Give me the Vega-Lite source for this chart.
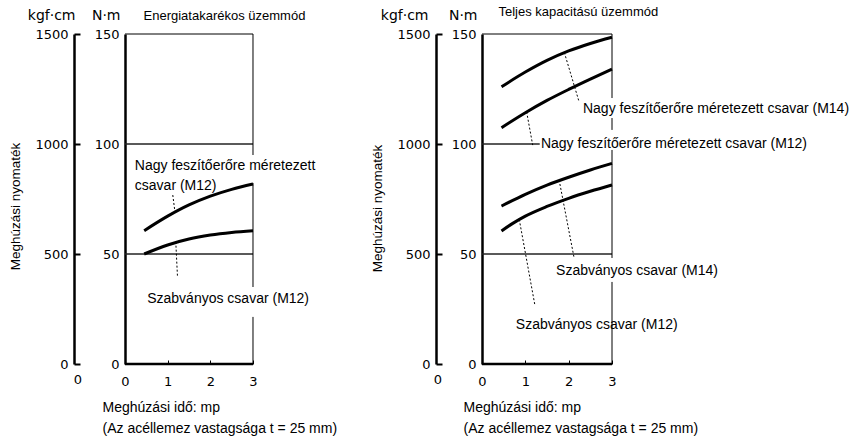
{
  "$schema": "https://vega.github.io/schema/vega-lite/v6.json",
  "width": 487,
  "height": 330,
  "autosize": {"type": "none"},
  "padding": {"left": 125, "top": 34, "right": 245, "bottom": 80},
  "background": "white",
  "datasets": {
    "gridL": [{"x1": 0, "x2": 3, "v": 50, "k": 500}, {"x1": 0, "x2": 3, "v": 100, "k": 1000}],
    "gridR": [{"x1": 0, "x2": 3, "v": 50, "k": 500}, {"x1": 0, "x2": 1.33, "v": 100, "k": 1000}],
    "frameL": [
      {"x1": 0, "x2": 3, "y1": 150, "y2": 150},
      {"x1": 3, "x2": 3, "y1": 150, "y2": 95},
      {"x1": 3, "x2": 3, "y1": 82.3, "y2": 35},
      {"x1": 3, "x2": 3, "y1": 21.4, "y2": 0}
    ],
    "frameR": [
      {"x1": 0, "x2": 3, "y1": 150, "y2": 150},
      {"x1": 3, "x2": 3, "y1": 150, "y2": 120.9},
      {"x1": 3, "x2": 3, "y1": 111.8, "y2": 106.4},
      {"x1": 3, "x2": 3, "y1": 97.3, "y2": 48.2},
      {"x1": 3, "x2": 3, "y1": 37.3, "y2": 0}
    ],
    "base": [{"x1": 0, "x2": 3, "y": 0}],
    "curvesL": [
      {"s": "Nagy M12", "t": 0.45, "nm": 60.6},
      {"s": "Nagy M12", "t": 1.0, "nm": 67.2},
      {"s": "Nagy M12", "t": 1.5, "nm": 72.3},
      {"s": "Nagy M12", "t": 2.0, "nm": 76.3},
      {"s": "Nagy M12", "t": 2.5, "nm": 79.4},
      {"s": "Nagy M12", "t": 3.0, "nm": 81.8},
      {"s": "Std M12", "t": 0.45, "nm": 50.0},
      {"s": "Std M12", "t": 1.0, "nm": 54.1},
      {"s": "Std M12", "t": 1.5, "nm": 56.8},
      {"s": "Std M12", "t": 2.0, "nm": 58.6},
      {"s": "Std M12", "t": 2.5, "nm": 59.8},
      {"s": "Std M12", "t": 3.0, "nm": 60.6}
    ],
    "curvesR": [
      {"s": "Nagy M14", "t": 0.45, "nm": 126.0},
      {"s": "Nagy M14", "t": 1.0, "nm": 132.7},
      {"s": "Nagy M14", "t": 1.5, "nm": 138.0},
      {"s": "Nagy M14", "t": 2.0, "nm": 142.3},
      {"s": "Nagy M14", "t": 2.5, "nm": 145.7},
      {"s": "Nagy M14", "t": 3.0, "nm": 148.5},
      {"s": "Nagy M12", "t": 0.45, "nm": 107.4},
      {"s": "Nagy M12", "t": 1.0, "nm": 114.2},
      {"s": "Nagy M12", "t": 1.5, "nm": 119.8},
      {"s": "Nagy M12", "t": 2.0, "nm": 124.8},
      {"s": "Nagy M12", "t": 2.5, "nm": 129.5},
      {"s": "Nagy M12", "t": 3.0, "nm": 134.0},
      {"s": "Std M14", "t": 0.45, "nm": 71.8},
      {"s": "Std M14", "t": 1.0, "nm": 77.1},
      {"s": "Std M14", "t": 1.5, "nm": 81.3},
      {"s": "Std M14", "t": 2.0, "nm": 84.9},
      {"s": "Std M14", "t": 2.5, "nm": 88.2},
      {"s": "Std M14", "t": 3.0, "nm": 91.2},
      {"s": "Std M12", "t": 0.45, "nm": 60.5},
      {"s": "Std M12", "t": 0.7, "nm": 63.8},
      {"s": "Std M12", "t": 1.0, "nm": 67.2},
      {"s": "Std M12", "t": 1.5, "nm": 71.6},
      {"s": "Std M12", "t": 2.0, "nm": 75.3},
      {"s": "Std M12", "t": 2.5, "nm": 78.5},
      {"s": "Std M12", "t": 3.0, "nm": 81.4}
    ],
    "leadL": [
      {"t1": 1.12, "y1": 76.8, "t2": 1.17, "y2": 69.2},
      {"t1": 1.19, "y1": 55.6, "t2": 1.23, "y2": 39.7}
    ],
    "leadR": [
      {"t1": 1.9, "y1": 141.6, "t2": 2.24, "y2": 119.2},
      {"t1": 1.03, "y1": 114.6, "t2": 1.17, "y2": 99.5},
      {"t1": 1.78, "y1": 83.6, "t2": 2.12, "y2": 48.8},
      {"t1": 0.86, "y1": 65.7, "t2": 1.22, "y2": 26.8}
    ],
    "textL": [
      {"t": 0.23, "nm": 88.0, "label": ["Nagy feszítőerőre méretezett", "csavar (M12)"]},
      {"t": 0.52, "nm": 27.6, "label": ["Szabványos csavar (M12)"]}
    ],
    "textR": [
      {"t": 2.33, "nm": 114.0, "label": ["Nagy feszítőerőre méretezett csavar (M14)"]},
      {"t": 1.36, "nm": 98.2, "label": ["Nagy feszítőerőre méretezett  csavar (M12)"]},
      {"t": 1.71, "nm": 40.5, "label": ["Szabványos csavar (M14)"]},
      {"t": 0.78, "nm": 15.9, "label": ["Szabványos csavar (M12)"]}
    ],
    "zero": [{"t": 0, "nm": 0, "label": "0"}]
  },
  "layer": [
    {
      "data": {"name": "gridL"},
      "mark": {"type": "rule", "color": "#222", "strokeWidth": 1},
      "encoding": {
        "x": {"field": "x1", "type": "quantitative", "scale": {"domain": [0, 11.4141]}, "axis": null},
        "x2": {"field": "x2"},
        "y": {"field": "v", "type": "quantitative", "scale": {"domain": [0, 150]},
          "axis": {"orient": "left", "values": [0, 50, 100, 150], "format": "d", "ticks": false, "domainWidth": 2.5, "labelPadding": 6,
            "title": "N·m", "titleAngle": 0, "titleAlign": "right", "titleBaseline": "alphabetic", "titleX": -5, "titleY": -15, "titleFont": "DejaVu Sans", "titleFontSize": 14}}
      }
    },
    {
      "data": {"name": "gridL"},
      "mark": {"type": "rule", "color": "#222", "strokeWidth": 1},
      "encoding": {
        "x": {"field": "x1", "type": "quantitative", "scale": {"domain": [0, 11.4141]}, "axis": null},
        "x2": {"field": "x2"},
        "y": {"field": "k", "type": "quantitative", "scale": {"domain": [0, 1500]},
          "axis": {"orient": "left", "values": [0, 500, 1000, 1500], "format": "d", "offset": 51, "tickSize": -6, "tickWidth": 2, "labelPadding": 12, "domainWidth": 2.5,
            "title": "kgf·cm", "titleAngle": 0, "titleAlign": "right", "titleBaseline": "alphabetic", "titleX": 1, "titleY": -15, "titleFont": "DejaVu Sans", "titleFontSize": 14}}
      }
    },
    {
      "data": {"name": "frameL"},
      "mark": {"type": "rule", "color": "black", "strokeWidth": 1},
      "encoding": {
        "x": {"field": "x1", "type": "quantitative", "scale": {"domain": [0, 11.4141]}, "axis": null},
        "x2": {"field": "x2"},
        "y": {"field": "y1", "type": "quantitative", "scale": {"domain": [0, 150]}, "axis": null},
        "y2": {"field": "y2"}
      }
    },
    {
      "data": {"name": "base"},
      "mark": {"type": "rule", "color": "black", "strokeWidth": 2.5},
      "encoding": {
        "x": {"field": "x1", "type": "quantitative", "scale": {"domain": [0, 11.4141]}, "axis": null},
        "x2": {"field": "x2"},
        "y": {"field": "y", "type": "quantitative", "scale": {"domain": [0, 150]}, "axis": null}
      }
    },
    {
      "data": {"name": "curvesL"},
      "mark": {"type": "line", "color": "black", "strokeWidth": 3, "interpolate": "monotone"},
      "encoding": {
        "x": {"field": "t", "type": "quantitative", "scale": {"domain": [0, 11.4141]},
          "axis": {"orient": "bottom", "values": [0, 1, 2, 3], "domain": false, "tickSize": -4, "tickWidth": 1, "labelPadding": 15,
            "title": ["Meghúzási idő: mp", "(Az acéllemez vastagsága t = 25 mm)"], "titleAnchor": "start", "titleAlign": "left", "titleBaseline": "top", "titleX": -23, "titleY": 36,
            "titleFont": "Liberation Sans", "titleFontSize": 14, "titleLineHeight": 21}},
        "y": {"field": "nm", "type": "quantitative", "scale": {"domain": [0, 150]},
          "axis": {"orient": "left", "labels": false, "ticks": false, "domain": false, "offset": 51,
            "title": "Meghúzási nyomaték", "titleAngle": -90, "titleAlign": "center", "titleBaseline": "middle", "titleX": -59, "titleY": 172,
            "titleFont": "Liberation Sans", "titleFontSize": 13.5}},
        "detail": {"field": "s"}
      }
    },
    {
      "data": {"name": "leadL"},
      "mark": {"type": "rule", "color": "black", "strokeWidth": 1, "strokeDash": [2, 2]},
      "encoding": {
        "x": {"field": "t1", "type": "quantitative", "scale": {"domain": [0, 11.4141]},
          "axis": {"orient": "top", "labels": false, "ticks": false, "domain": false,
            "title": "Energiatakarékos üzemmód", "titleAnchor": "start", "titleAlign": "left", "titleBaseline": "alphabetic", "titleX": 18, "titleY": -15,
            "titleFont": "Liberation Sans", "titleFontSize": 13}},
        "x2": {"field": "t2"},
        "y": {"field": "y1", "type": "quantitative", "scale": {"domain": [0, 150]}, "axis": null},
        "y2": {"field": "y2"}
      }
    },
    {
      "data": {"name": "textL"},
      "mark": {"type": "text", "align": "left", "baseline": "alphabetic", "font": "Liberation Sans", "fontSize": 14, "lineHeight": 19.5, "color": "black"},
      "encoding": {
        "x": {"field": "t", "type": "quantitative", "scale": {"domain": [0, 11.4141]}, "axis": null},
        "y": {"field": "nm", "type": "quantitative", "scale": {"domain": [0, 150]}, "axis": null},
        "text": {"field": "label"}
      }
    },
    {
      "data": {"name": "zero"},
      "mark": {"type": "text", "align": "center", "baseline": "middle", "font": "DejaVu Sans", "fontSize": 13, "dx": -47, "dy": 16, "color": "black"},
      "encoding": {
        "x": {"field": "t", "type": "quantitative", "scale": {"domain": [0, 11.4141]}, "axis": null},
        "y": {"field": "nm", "type": "quantitative", "scale": {"domain": [0, 150]}, "axis": null},
        "text": {"field": "label"}
      }
    },
    {
      "data": {"name": "gridR"},
      "mark": {"type": "rule", "color": "#222", "strokeWidth": 1},
      "encoding": {
        "x": {"field": "x1", "type": "quantitative", "scale": {"domain": [-8.2385, 3]}, "axis": null},
        "x2": {"field": "x2"},
        "y": {"field": "v", "type": "quantitative", "scale": {"domain": [0, 150]},
          "axis": {"orient": "left", "values": [0, 50, 100, 150], "format": "d", "offset": -357, "ticks": false, "domainWidth": 2.5, "labelPadding": 6,
            "title": "N·m", "titleAngle": 0, "titleAlign": "right", "titleBaseline": "alphabetic", "titleX": -5, "titleY": -15, "titleFont": "DejaVu Sans", "titleFontSize": 14}}
      }
    },
    {
      "data": {"name": "gridR"},
      "mark": {"type": "rule", "color": "#222", "strokeWidth": 1},
      "encoding": {
        "x": {"field": "x1", "type": "quantitative", "scale": {"domain": [-8.2385, 3]}, "axis": null},
        "x2": {"field": "x2"},
        "y": {"field": "k", "type": "quantitative", "scale": {"domain": [0, 1500]},
          "axis": {"orient": "left", "values": [0, 500, 1000, 1500], "format": "d", "offset": -311, "tickSize": -6, "tickWidth": 2, "labelPadding": 12, "domainWidth": 2.5,
            "title": "kgf·cm", "titleAngle": 0, "titleAlign": "right", "titleBaseline": "alphabetic", "titleX": -8, "titleY": -15, "titleFont": "DejaVu Sans", "titleFontSize": 14}}
      }
    },
    {
      "data": {"name": "frameR"},
      "mark": {"type": "rule", "color": "black", "strokeWidth": 1},
      "encoding": {
        "x": {"field": "x1", "type": "quantitative", "scale": {"domain": [-8.2385, 3]}, "axis": null},
        "x2": {"field": "x2"},
        "y": {"field": "y1", "type": "quantitative", "scale": {"domain": [0, 150]}, "axis": null},
        "y2": {"field": "y2"}
      }
    },
    {
      "data": {"name": "base"},
      "mark": {"type": "rule", "color": "black", "strokeWidth": 2.5},
      "encoding": {
        "x": {"field": "x1", "type": "quantitative", "scale": {"domain": [-8.2385, 3]}, "axis": null},
        "x2": {"field": "x2"},
        "y": {"field": "y", "type": "quantitative", "scale": {"domain": [0, 150]}, "axis": null}
      }
    },
    {
      "data": {"name": "curvesR"},
      "mark": {"type": "line", "color": "black", "strokeWidth": 3, "interpolate": "monotone"},
      "encoding": {
        "x": {"field": "t", "type": "quantitative", "scale": {"domain": [-8.2385, 3]},
          "axis": {"orient": "bottom", "values": [0, 1, 2, 3], "domain": false, "tickSize": -4, "tickWidth": 1, "labelPadding": 15,
            "title": ["Meghúzási idő: mp", "(Az acéllemez vastagsága t = 25 mm)"], "titleAnchor": "start", "titleAlign": "left", "titleBaseline": "top", "titleX": 338, "titleY": 36,
            "titleFont": "Liberation Sans", "titleFontSize": 14, "titleLineHeight": 21}},
        "y": {"field": "nm", "type": "quantitative", "scale": {"domain": [0, 150]},
          "axis": {"orient": "left", "labels": false, "ticks": false, "domain": false, "offset": -311,
            "title": "Meghúzási nyomaték", "titleAngle": -90, "titleAlign": "center", "titleBaseline": "middle", "titleX": -59, "titleY": 174,
            "titleFont": "Liberation Sans", "titleFontSize": 13.5}},
        "detail": {"field": "s"}
      }
    },
    {
      "data": {"name": "leadR"},
      "mark": {"type": "rule", "color": "black", "strokeWidth": 1, "strokeDash": [2, 2]},
      "encoding": {
        "x": {"field": "t1", "type": "quantitative", "scale": {"domain": [-8.2385, 3]},
          "axis": {"orient": "top", "labels": false, "ticks": false, "domain": false,
            "title": "Teljes kapacitású üzemmód", "titleAnchor": "start", "titleAlign": "left", "titleBaseline": "alphabetic", "titleX": 373, "titleY": -19,
            "titleFont": "Liberation Sans", "titleFontSize": 13}},
        "x2": {"field": "t2"},
        "y": {"field": "y1", "type": "quantitative", "scale": {"domain": [0, 150]}, "axis": null},
        "y2": {"field": "y2"}
      }
    },
    {
      "data": {"name": "textR"},
      "mark": {"type": "text", "align": "left", "baseline": "alphabetic", "font": "Liberation Sans", "fontSize": 14, "lineHeight": 19.5, "color": "black"},
      "encoding": {
        "x": {"field": "t", "type": "quantitative", "scale": {"domain": [-8.2385, 3]}, "axis": null},
        "y": {"field": "nm", "type": "quantitative", "scale": {"domain": [0, 150]}, "axis": null},
        "text": {"field": "label"}
      }
    },
    {
      "data": {"name": "zero"},
      "mark": {"type": "text", "align": "center", "baseline": "middle", "font": "DejaVu Sans", "fontSize": 13, "dx": -44, "dy": 16, "color": "black"},
      "encoding": {
        "x": {"field": "t", "type": "quantitative", "scale": {"domain": [-8.2385, 3]}, "axis": null},
        "y": {"field": "nm", "type": "quantitative", "scale": {"domain": [0, 150]}, "axis": null},
        "text": {"field": "label"}
      }
    }
  ],
  "resolve": {"scale": {"x": "independent", "y": "independent"}, "axis": {"x": "independent", "y": "independent"}},
  "config": {
    "view": {"stroke": null},
    "axis": {"labelFont": "DejaVu Sans", "labelFontSize": 13, "labelColor": "black", "titleColor": "black", "titleFontWeight": "normal", "domainColor": "black", "tickColor": "black", "grid": false, "labelFlush": false, "labelOverlap": false}
  }
}
